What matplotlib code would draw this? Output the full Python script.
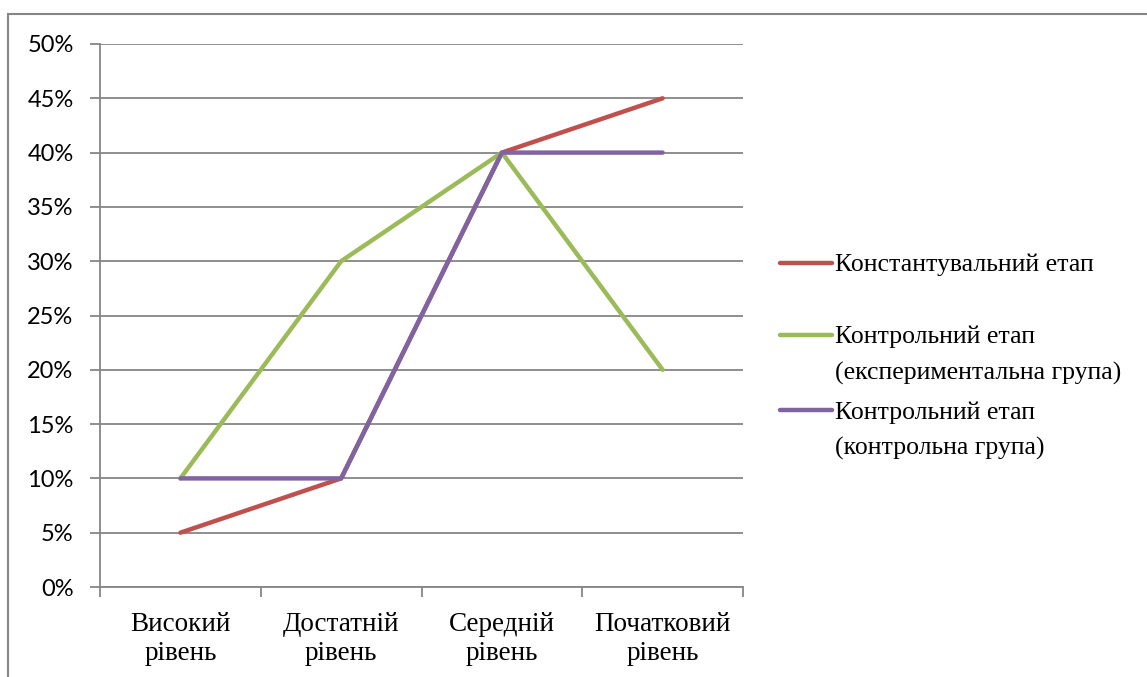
import matplotlib.pyplot as plt
from matplotlib.lines import Line2D
from matplotlib.patches import Rectangle
from matplotlib.ticker import FuncFormatter

categories = ['Високий\nрівень', 'Достатній\nрівень', 'Середній\nрівень', 'Початковий\nрівень']
konstant = [5, 10, 40, 45]
kontrol_exp = [10, 30, 40, 20]
kontrol_ctrl = [10, 10, 40, 40]
labels = ['Константувальний етап',
          'Контрольний етап\n(експериментальна група)',
          'Контрольний етап\n(контрольна група)']
colors = ['#C0504D', '#9BBB59', '#8064A2']

grey = '#868686'
W, H = 1147, 677
serif = ['Liberation Serif', 'DejaVu Serif']

fig = plt.figure(figsize=(W / 100, H / 100), dpi=100)
ax = fig.add_axes([100 / W, 1 - 587 / H, 643 / W, 543 / H])

x = list(range(len(categories)))
series = [konstant, kontrol_exp, kontrol_ctrl]
for vals, lab, col in zip(series, labels, colors):
    ax.plot(x, vals, color=col, lw=3.2, label=lab, solid_capstyle='round')

ax.set_xlim(-0.5, 3.5)
ax.set_ylim(0, 50)
ax.set_yticks(range(0, 51, 5))
ax.yaxis.set_major_formatter(FuncFormatter(lambda v, p: f'{int(v)}%'))
ax.set_xticks([i - 0.5 for i in range(5)])
ax.set_xticklabels([])
ax.set_xticks(x, minor=True)
ax.set_xticklabels(categories, minor=True, fontfamily=serif, fontsize=19.5,
                   linespacing=1.2)
ax.tick_params(axis='x', which='minor', length=0, pad=18)
ax.tick_params(axis='x', which='major', length=7, color=grey, width=1.3)
ax.tick_params(axis='y', length=7, color=grey, width=1.3, pad=12)
for t in ax.get_yticklabels():
    t.set_fontfamily('Lato')
    t.set_fontsize(17)

ax.grid(axis='y', color=grey, lw=1.3)
ax.set_axisbelow(True)
for s in ['top', 'right']:
    ax.spines[s].set_visible(False)
for s in ['left', 'bottom']:
    ax.spines[s].set_color(grey)
    ax.spines[s].set_linewidth(1.3)

# legend drawn by hand so the line sits level with the first text line
leg_y = [263, 335, 410]
for yy, lab, col in zip(leg_y, labels, colors):
    fig.add_artist(Line2D([780 / W, 832 / W], [1 - yy / H, 1 - yy / H],
                          color=col, lw=3.2, solid_capstyle='round'))
    fig.text(835 / W, 1 - (yy - 9) / H, lab, va='top', ha='left',
             fontfamily=serif, fontsize=18.5, linespacing=1.75)

fig.patches.append(Rectangle((8 / W, -0.1), 2, 1.1 - 14 / H,
                             transform=fig.transFigure, fill=False,
                             edgecolor=grey, lw=1.5))

fig.savefig('out.png', dpi=100)
